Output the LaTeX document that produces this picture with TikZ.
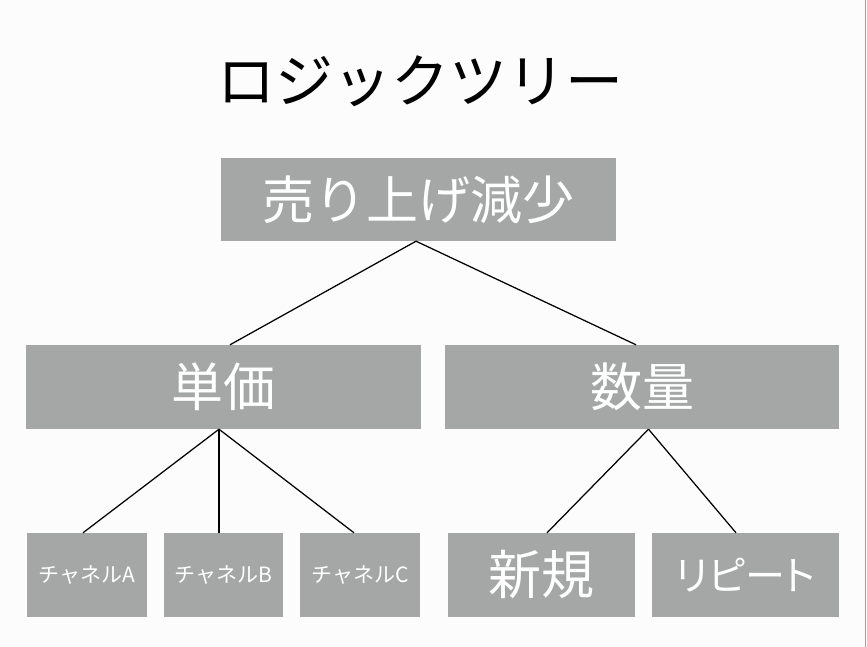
\documentclass[tikz,border=0pt]{standalone}
\usepackage{fontspec}
\setmainfont{Noto Sans CJK JP}
\newfontfamily\jpp{Noto Sans CJK JP}[RawFeature=+palt]
\definecolor{boxgray}{HTML}{A4A7A6}
\definecolor{bggray}{HTML}{FCFCFC}
\definecolor{edgegray}{HTML}{A0A0A0}
\tikzset{
  gbox/.style={rectangle, fill=boxgray, text=white, inner sep=0pt, minimum height=84pt},
  link/.style={draw=black, line width=1.25pt},
}
\begin{document}
\begin{tikzpicture}[x=1pt,y=-1pt]
\useasboundingbox (0,0) rectangle (867,647);
\fill[bggray] (0,0) rectangle (865,647);
\draw[edgegray, line width=1.2pt] (865.5,0) -- (865.5,647);

\node[inner sep=0pt, font=\fontsize{58}{60}\selectfont] (title) at (420,81) {ロジックツリー};

\node[gbox, minimum width=395pt, minimum height=83pt, font=\fontsize{52}{56}\selectfont] (top) at (418.5,199.5) {売り上げ減少};

\node[gbox, minimum width=395pt, font=\fontsize{52}{56}\selectfont] (tanka) at (223.5,387) {単価};
\node[gbox, minimum width=394pt, font=\fontsize{52}{56}\selectfont] (suryo) at (642,387) {数量};

\node[gbox, minimum width=120pt, font=\fontsize{21}{24}\selectfont] (cha) at (87,575) {チャネルA};
\node[gbox, minimum width=119pt, font=\fontsize{21}{24}\selectfont] (chb) at (223.5,575) {チャネルB};
\node[gbox, minimum width=120pt, font=\fontsize{21}{24}\selectfont] (chc) at (360,575) {チャネルC};

\node[gbox, minimum width=187pt, font=\fontsize{53}{56}\selectfont] (shinki) at (541.5,575) {新規};
\node[gbox, minimum width=187pt, font=\jpp\fontsize{40}{44}\selectfont] (repeat) at (745.5,575) {リピート};

\draw[link] ([xshift=-2.5pt]top.south) -- ([xshift=6.5pt]tanka.north);
\draw[link] ([xshift=-2.5pt]top.south) -- ([xshift=-6pt]suryo.north);

\draw[link] ([xshift=-4.5pt]tanka.south) -- ([xshift=-4pt]cha.north);
\draw[link] ([xshift=-4.5pt]tanka.south) -- ([xshift=-4.5pt]chb.north);
\draw[link] ([xshift=-4.5pt]tanka.south) -- ([xshift=-6pt]chc.north);

\draw[link] ([xshift=6.5pt]suryo.south) -- ([xshift=5.5pt]shinki.north);
\draw[link] ([xshift=6.5pt]suryo.south) -- ([xshift=-9.5pt]repeat.north);
\end{tikzpicture}
\end{document}
